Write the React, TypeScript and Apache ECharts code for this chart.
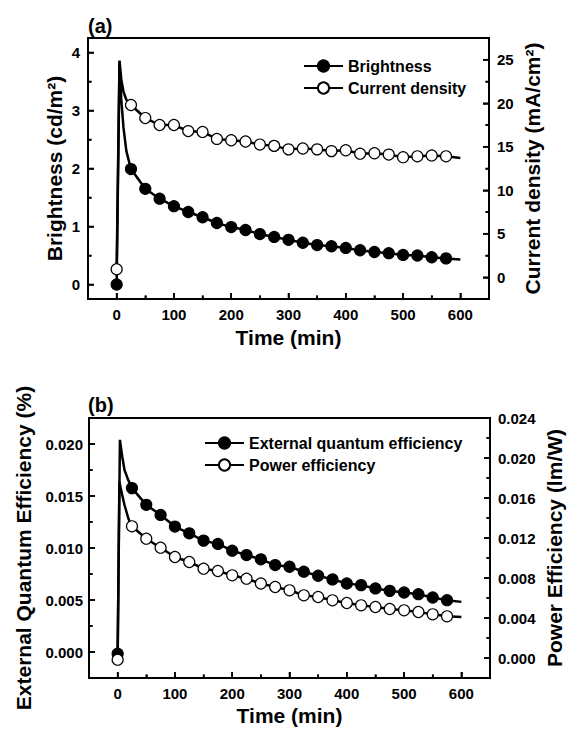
import React, { useEffect, useRef } from "react";
import * as echarts from "echarts";

const FONT = "Liberation Sans, Arial, Helvetica, sans-serif";

// Shared time axis
const xMajorTicks = [0, 100, 200, 300, 400, 500, 600];
const xMinorTicks = [50, 150, 250, 350, 450, 550];

// Times that carry a marker
const markerTimes = [0, 25, 50, 75, 100, 125, 150, 175, 200, 225, 250, 275, 300, 325, 350, 375, 400, 425, 450, 475, 500, 525, 550, 575];

// Panel (a)
const brightness = [0, 1.99, 1.65, 1.48, 1.35, 1.25, 1.16, 1.06, 0.99, 0.94, 0.87, 0.82, 0.77, 0.72, 0.68, 0.66, 0.63, 0.59, 0.56, 0.54, 0.51, 0.5, 0.47, 0.45];
const brightnessLineTimes = [5, 8, 12, 17, 600];
const brightnessLineValues = [3.84, 3.2, 2.7, 2.3, 0.43];

const currentDensity = [0.92, 19.8, 18.3, 17.5, 17.5, 16.8, 16.7, 15.9, 15.75, 15.6, 15.25, 15.1, 14.7, 14.8, 14.7, 14.5, 14.6, 14.2, 14.25, 14.1, 13.8, 13.9, 14.0, 13.9];
const currentLineTimes = [5, 8, 12, 17, 600];
const currentLineValues = [24.9, 22.8, 21.3, 20.4, 13.7];

const brightnessTicks = [0, 1, 2, 3, 4];
const brightnessMinor = [0.5, 1.5, 2.5, 3.5];
const currentTicks = [0, 5, 10, 15, 20, 25];
const currentMinor = [2.5, 7.5, 12.5, 17.5, 22.5];

// Panel (b)
const eqe = [-0.00016, 0.01576, 0.01415, 0.01318, 0.01206, 0.01141, 0.01071, 0.01039, 0.00974, 0.00932, 0.00891, 0.00836, 0.0082, 0.00772, 0.00733, 0.00698, 0.00659, 0.00643, 0.00611, 0.00588, 0.00572, 0.00556, 0.00524, 0.00498];
const eqeLineTimes = [4, 8, 12, 18, 600];
const eqeLineValues = [0.0204, 0.0188, 0.0175, 0.0166, 0.00482];

const powerEff = [-0.00017, 0.01317, 0.01193, 0.01103, 0.0101, 0.0096, 0.00893, 0.0087, 0.00827, 0.00793, 0.00745, 0.0071, 0.00677, 0.00627, 0.0061, 0.00577, 0.0055, 0.00527, 0.0051, 0.0049, 0.00477, 0.0046, 0.00437, 0.00417];
const powerLineTimes = [3, 8, 12, 19, 600];
const powerLineValues = [0.0176, 0.0163, 0.0153, 0.0139, 0.0041];

const eqeTicks = [0, 0.005, 0.01, 0.015, 0.02];
const eqeMinor = [0.0025, 0.0075, 0.0125, 0.0175];
const powerTicks = [0, 0.004, 0.008, 0.012, 0.016, 0.02, 0.024];
const powerMinor = [0.002, 0.006, 0.01, 0.014, 0.018, 0.022];

function buildCurve(mT: number[], mV: number[], lT: number[], lV: number[]) {
  const pts: any[] = [];
  mT.forEach((t, i) => pts.push({ value: [t, mV[i]] }));
  lT.forEach((t, i) => pts.push({ value: [t, lV[i]], symbol: "none" }));
  pts.sort((a, b) => a.value[0] - b.value[0]);
  return pts;
}

function labelAxis(
  gridIndex: number,
  position: string,
  min: number,
  max: number,
  ticks: number[],
  fmt: (v: number) => string,
  name: string,
  nameGap: number,
  margin: number
) {
  return {
    type: "value",
    gridIndex,
    position,
    min,
    max,
    axisLine: { show: true, onZero: false, lineStyle: { color: "#000000", width: 2 } },
    splitLine: { show: false },
    axisTick: { show: false },
    axisLabel: {
      customValues: ticks,
      margin,
      formatter: fmt,
      color: "#000",
      fontSize: 15,
      fontWeight: "bold",
      fontFamily: FONT,
    },
    name,
    nameLocation: "middle",
    nameGap,
    nameMoveOverlap: false,
    nameTextStyle: { color: "#000", fontSize: 21, fontWeight: "bold", fontFamily: FONT },
  };
}

function tickAxis(gridIndex: number, position: string, min: number, max: number, ticks: number[], len: number) {
  return {
    type: "value",
    gridIndex,
    position,
    min,
    max,
    axisLine: { show: false, onZero: false },
    splitLine: { show: false },
    axisLabel: { show: false },
    axisTick: {
      show: true,
      inside: true,
      length: len,
      customValues: ticks,
      lineStyle: { color: "#000000", width: 1.6 },
    },
  };
}

// Frame and inward ticks drawn through the axes' own coordinate mapping
function frameSeries(
  xi: number,
  yi: number,
  side: "left" | "right",
  yMajor: number[],
  yMinor: number[],
  withFrame: boolean
) {
  return {
    type: "custom",
    xAxisIndex: xi,
    yAxisIndex: yi,
    silent: true,
    clip: false,
    z: 10,
    data: [[yMajor[0], yMajor[0]]],
    renderItem: (params: any, api: any) => {
      const cs = params.coordSys;
      const st = { stroke: "#000000", lineWidth: 1.6 };
      const children: any[] = [];
      const bottom = cs.y + cs.height;
      if (withFrame) {
        children.push({
          type: "rect",
          shape: { x: cs.x, y: cs.y, width: cs.width, height: cs.height },
          style: { fill: "transparent", stroke: "#000000", lineWidth: 2 },
        });
        const xTick = (v: number, len: number) => {
          const px = api.coord([v, yMajor[0]])[0];
          children.push({ type: "line", shape: { x1: px, y1: bottom, x2: px, y2: bottom - len }, style: st });
        };
        xMajorTicks.forEach((v) => xTick(v, 6));
        xMinorTicks.forEach((v) => xTick(v, 3.5));
      }
      const edge = side === "left" ? cs.x : cs.x + cs.width;
      const dir = side === "left" ? 1 : -1;
      const yTick = (v: number, len: number) => {
        const py = api.coord([0, v])[1];
        children.push({ type: "line", shape: { x1: edge, y1: py, x2: edge + dir * len, y2: py }, style: st });
      };
      yMajor.forEach((v) => yTick(v, 6));
      yMinor.forEach((v) => yTick(v, 3.5));
      return { type: "group", children };
    },
  };
}

function lineSeries(name: string, xi: number, yi: number, data: any[], filled: boolean) {
  return {
    name,
    type: "line",
    xAxisIndex: xi,
    yAxisIndex: yi,
    data,
    symbol: "circle",
    symbolSize: 11,
    showSymbol: true,
    lineStyle: { color: "#000", width: 2.5 },
    itemStyle: { color: filled ? "#000" : "#fff", borderColor: "#000", borderWidth: 1.2 },
  };
}

function legendFor(left: number, top: number, names: string[]) {
  return {
    left,
    top,
    orient: "vertical",
    padding: 0,
    itemWidth: 39,
    itemHeight: 14,
    itemGap: 6,
    selectedMode: false,
    data: names,
    textStyle: { color: "#000", fontSize: 16, fontWeight: "bold", fontFamily: FONT },
  };
}

export default function App() {
  const ref = useRef<HTMLDivElement>(null);
  useEffect(() => {
    if (!ref.current) return;
    const chart = echarts.init(ref.current, null, { renderer: "svg" });
    const intFmt = (v: number) => String(Math.round(v));
    const f3 = (v: number) => v.toFixed(3);
    const X0 = -50;
    const X1 = 650;
    const option: any = {
      animation: false,
      title: [
        { text: "(a)", left: 88, top: 16, padding: 0, textStyle: { color: "#000", fontSize: 20, fontWeight: "bold", fontFamily: FONT } },
        { text: "(b)", left: 88, top: 395, padding: 0, textStyle: { color: "#000", fontSize: 20, fontWeight: "bold", fontFamily: FONT } },
      ],
      grid: [
        { left: 88, top: 38, width: 401, height: 261, outerBoundsMode: "none", show: true, borderColor: "#000000", borderWidth: 2, backgroundColor: "transparent" },
        { left: 89, top: 418, width: 401, height: 260, outerBoundsMode: "none", show: true, borderColor: "#000000", borderWidth: 2, backgroundColor: "transparent" },
      ],
      xAxis: [
        labelAxis(0, "bottom", X0, X1, xMajorTicks, intFmt, "Time (min)", 28, 8),
        tickAxis(0, "bottom", X0, X1, xMajorTicks, 6),
        tickAxis(0, "bottom", X0, X1, xMinorTicks, 3.5),
        labelAxis(1, "bottom", X0, X1, xMajorTicks, intFmt, "Time (min)", 27, 8),
        tickAxis(1, "bottom", X0, X1, xMajorTicks, 6),
        tickAxis(1, "bottom", X0, X1, xMinorTicks, 3.5),
      ],
      yAxis: [
        labelAxis(0, "left", -0.25, 4.25, brightnessTicks, intFmt, "Brightness (cd/m²)", 23, 8),
        labelAxis(0, "right", -2.5, 27.5, currentTicks, intFmt, "Current density (mA/cm²)", 33, 8),
        labelAxis(1, "left", -0.0025, 0.0225, eqeTicks, f3, "External Quantum Efficiency (%)", 55, 6),
        labelAxis(1, "right", -0.002, 0.024, powerTicks, f3, "Power Efficiency (lm/W)", 54, 8),
        tickAxis(0, "left", -0.25, 4.25, brightnessTicks, 6),
        tickAxis(0, "left", -0.25, 4.25, brightnessMinor, 3.5),
        tickAxis(0, "right", -2.5, 27.5, currentTicks, 6),
        tickAxis(0, "right", -2.5, 27.5, currentMinor, 3.5),
        tickAxis(1, "left", -0.0025, 0.0225, eqeTicks, 6),
        tickAxis(1, "left", -0.0025, 0.0225, eqeMinor, 3.5),
        tickAxis(1, "right", -0.002, 0.024, powerTicks, 6),
        tickAxis(1, "right", -0.002, 0.024, powerMinor, 3.5),
      ],
      legend: [
        legendFor(303, 58, ["Brightness", "Current density"]),
        legendFor(204, 435, ["External quantum efficiency", "Power efficiency"]),
      ],
      series: [
        lineSeries("Brightness", 0, 0, buildCurve(markerTimes, brightness, brightnessLineTimes, brightnessLineValues), true),
        lineSeries("Current density", 0, 1, buildCurve(markerTimes, currentDensity, currentLineTimes, currentLineValues), false),
        lineSeries("External quantum efficiency", 3, 2, buildCurve(markerTimes, eqe, eqeLineTimes, eqeLineValues), true),
        lineSeries("Power efficiency", 3, 3, buildCurve(markerTimes, powerEff, powerLineTimes, powerLineValues), false),
        frameSeries(0, 0, "left", brightnessTicks, brightnessMinor, true),
        frameSeries(0, 1, "right", currentTicks, currentMinor, false),
        frameSeries(3, 2, "left", eqeTicks, eqeMinor, true),
        frameSeries(3, 3, "right", powerTicks, powerMinor, false),
      ],
    };
    chart.setOption(option);
    return () => chart.dispose();
  }, []);
  return <div ref={ref} style={{ position: "absolute", left: 0, top: 0, width: 568, height: 731 }} />;
}
